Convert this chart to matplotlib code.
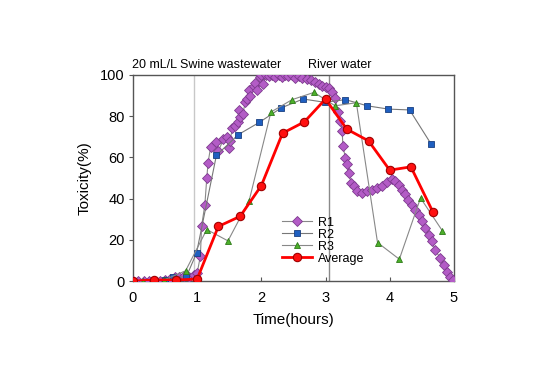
import numpy as np
import matplotlib.pyplot as plt

plt.rcParams['font.family'] = ['Liberation Sans', 'DejaVu Sans']

# R1 - dense sampling
r1_t = [0.0, 0.08, 0.17, 0.25, 0.33, 0.42, 0.5, 0.58, 0.65, 0.72, 0.8, 0.88, 0.95, 1.0,
        1.05, 1.07, 1.12, 1.15, 1.17, 1.21, 1.3, 1.33, 1.41, 1.46, 1.49, 1.51, 1.55, 1.59,
        1.63, 1.65, 1.67, 1.71, 1.75, 1.77, 1.8, 1.83, 1.88, 1.9, 1.93, 1.98, 2.0, 2.03,
        2.07, 2.12, 2.17, 2.22, 2.27, 2.32, 2.37, 2.42, 2.47, 2.52, 2.58, 2.64, 2.71, 2.78,
        2.84, 2.9, 2.94, 3.0, 3.05, 3.1, 3.15, 3.2, 3.23, 3.26, 3.27, 3.31, 3.33, 3.36,
        3.4, 3.44, 3.49, 3.57, 3.65, 3.72, 3.8, 3.88, 3.96, 4.04, 4.09, 4.14, 4.19, 4.24,
        4.29, 4.35, 4.4, 4.45, 4.5, 4.55, 4.61, 4.66, 4.71, 4.79, 4.84, 4.89, 4.94, 4.99]
r1_v = [0, 0, 0, 0, 0, 0, 0.5, 1, 2, 2, 2.5, 2, 3, 4,
        12, 26.8, 37, 50, 57.4, 65, 67.5, 63, 68.8, 70, 64.7, 68, 74, 75.3,
        77, 83, 79.7, 81, 86.7, 88.3, 92.8, 90, 94.5, 96, 92.8, 98.9, 99.7, 95.6,
        100, 99.5, 100, 99, 100, 99, 100, 99.5, 100, 98.5, 99.5, 98.5, 98, 97.5,
        96.4, 95.5, 94.8, 94, 93.5, 91.5, 88.6, 81.8, 77.7, 72.8, 65.5, 59.8, 56.6, 52.5,
        47.6, 46, 43.6, 42.8, 43.6, 44.4, 45.2, 46, 48, 49.6, 48.5, 46.8, 44.4, 42,
        39.5, 37, 34.6, 32.2, 29, 25.7, 22.4, 19.2, 15, 11, 7.8, 4.5, 2, 0.5]

r2_t = [0.0, 0.33, 0.5, 0.63, 0.83, 0.99, 1.3, 1.64, 1.97, 2.31, 2.65, 2.99, 3.31, 3.65, 3.98, 4.31, 4.64]
r2_v = [0, 0, 0.5, 2, 2, 13.6, 61, 71, 77, 84, 88.3, 86.7, 88, 85, 83.4, 83, 66.7]

r3_t = [0.0, 0.15, 0.48, 0.82, 1.15, 1.48, 1.81, 2.15, 2.48, 2.82, 3.15, 3.48, 3.81, 4.15, 4.48, 4.82]
r3_v = [0, 0, 0.5, 5, 25, 19.5, 39, 82, 88, 91.5, 85, 86.5, 18.7, 10.6, 40.3, 24.4]

avg_t = [0.0, 0.33, 0.67, 1.0, 1.33, 1.67, 2.0, 2.33, 2.67, 3.0, 3.33, 3.67, 4.0, 4.33, 4.67]
avg_v = [0, 0.5, 0.5, 1, 26.5, 31.4, 46.3, 71.7, 77.2, 88.3, 73.7, 68, 53.8, 55.4, 33.7]

fig = plt.figure(figsize=(5.34, 3.84), dpi=100)
ax = fig.add_axes([0.249, 0.268, 0.601, 0.537])

ax.axvline(0.95, color='#c8c8c8', lw=1, zorder=1)
ax.axvline(3.05, color='#8a8a8a', lw=1, zorder=1)

ax.plot(r1_t, r1_v, '-', color='#888888', lw=0.8, marker='D', ms=5,
        mfc='#b35cc6', mec='#7d3a8e', mew=0.6, label='R1', zorder=3)
ax.plot(r2_t, r2_v, '-', color='#777777', lw=0.8, marker='s', ms=4.5,
        mfc='#1f5fc0', mec='#1a3f80', mew=0.6, label='R2', zorder=3)
ax.plot(r3_t, r3_v, '-', color='#888888', lw=0.8, marker='^', ms=5,
        mfc='#4cb02a', mec='#2e7a18', mew=0.6, label='R3', zorder=3)
ax.plot(avg_t, avg_v, '-', color='#ff0000', lw=2, marker='o', ms=6,
        mfc='#ff1010', mec='#a00000', mew=0.8, label='Average', zorder=4)

ax.set_xlim(0, 5)
ax.set_ylim(0, 100)
ax.set_xticks(range(6))
ax.set_yticks(range(0, 101, 20))
ax.tick_params(axis='x', direction='in', length=3, pad=7, labelsize=10.5, color='#555555')
ax.tick_params(axis='y', direction='out', length=3, pad=3, labelsize=10.5, color='#555555')
for s in ax.spines.values():
    s.set_color('#555555')
    s.set_linewidth(1)

ax.set_xlabel('Time(hours)', fontsize=11, labelpad=6)
ax.set_ylabel('Toxicity(%)', fontsize=11, labelpad=6)

ax.text(-0.01, 101.8, '20 mL/L Swine wastewater', fontsize=9, ha='left', va='bottom')
ax.text(2.72, 101.8, 'River water', fontsize=9, ha='left', va='bottom')

ax.legend(loc='lower left', bbox_to_anchor=(0.445, 0.05), frameon=False, fontsize=9,
          handlelength=2.4, handletextpad=0.5, labelspacing=0.0, borderpad=0)

fig.savefig('out.png', dpi=100)
